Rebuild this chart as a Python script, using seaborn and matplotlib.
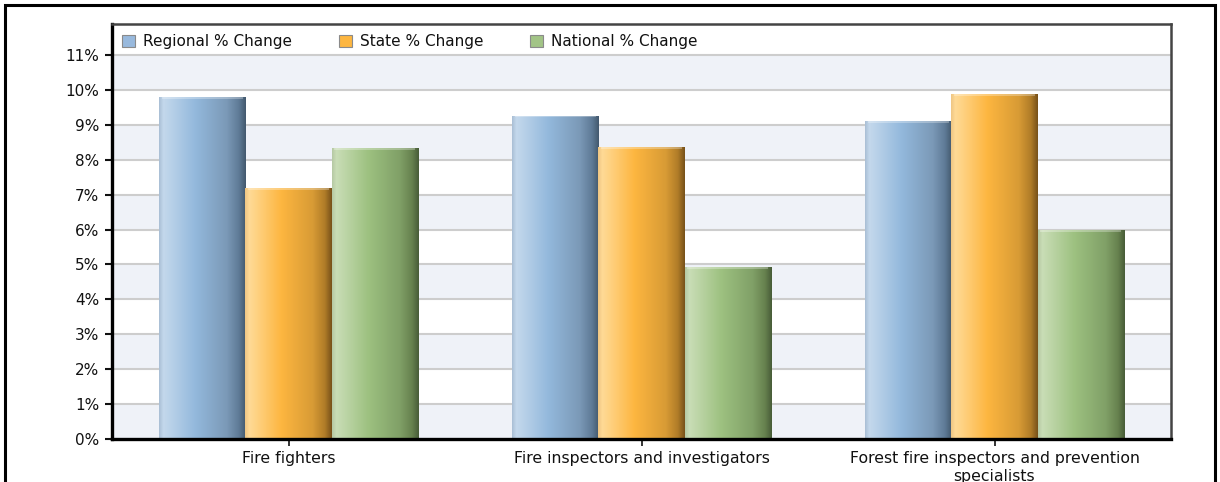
import numpy as np
import pandas as pd
import matplotlib
matplotlib.use("Agg")
import matplotlib.pyplot as plt
import seaborn as sns
from matplotlib.colors import LinearSegmentedColormap
from matplotlib.patches import Patch, Rectangle

# ---- data ----
categories = ["Fire fighters", "Fire inspectors and investigators",
              "Forest fire inspectors and prevention\nspecialists"]
series = ["Regional % Change", "State % Change", "National % Change"]
regional = [9.80, 9.26, 9.11]
state = [7.19, 8.37, 9.88]
national = [8.34, 4.92, 5.99]
yticks = list(range(0, 12))
ytick_labels = [f"{v}%" for v in yticks]

df = pd.DataFrame({
    "category": categories * 3,
    "series": [series[0]] * 3 + [series[1]] * 3 + [series[2]] * 3,
    "value": regional + state + national,
})

base_colors = {"Regional % Change": "#98B9DD",
               "State % Change": "#FDB640",
               "National % Change": "#A2C486"}
grad_stops = {
    "Regional % Change": ["#A9BED5", "#C4D8EC", "#93B8DC", "#7B99B7", "#5F7B97", "#43596E"],
    "State % Change": ["#EFC684", "#FFDA96", "#FDB640", "#D89B35", "#B07C28", "#77511A"],
    "National % Change": ["#B6C9A4", "#C9DDB6", "#9DC180", "#80A067", "#67824F", "#485C38"],
}
stop_pos = [0.0, 0.05, 0.42, 0.78, 0.92, 1.0]

sns.set_style("white")
plt.rcParams["font.family"] = ["DejaVu Sans"]

fig = plt.figure(figsize=(12.2, 4.82), dpi=100)
ax = fig.add_axes([112 / 1220, (482 - 439) / 482, (1171 - 112) / 1220, (439 - 24) / 482])

sns.barplot(data=df, x="category", y="value", hue="series", order=categories,
            hue_order=series, palette=base_colors, width=0.733, dodge=True,
            ax=ax, legend=False, saturation=1, edgecolor="none", zorder=3)

ax.set_xlim(-0.5, 2.5)
ax.set_ylim(0, 11.89)

# background bands and gridlines
for k in range(0, 11, 2):
    ax.axhspan(k, k + 1, color="#EFF2F8", zorder=0, lw=0)
for k in range(1, 12):
    ax.axhline(k, color="#CDCDCD", lw=1.5, zorder=1)

# gradient fill on each bar
n = len(categories)
for i, p in enumerate(ax.patches[:3 * n]):
    s = series[i // n]
    cmap = LinearSegmentedColormap.from_list(s, list(zip(stop_pos, grad_stops[s])))
    x0, w, h = p.get_x(), p.get_width(), p.get_height()
    grad = np.linspace(0, 1, 256).reshape(1, -1)
    im = ax.imshow(grad, cmap=cmap, extent=[x0, x0 + w, 0, h], aspect="auto",
                   zorder=4, interpolation="bilinear")
    im.set_clip_path(p)
    p.set_facecolor("none")
    # top bevel highlight
    ax.plot([x0 + w * 0.03, x0 + w * 0.97], [h - 0.02, h - 0.02],
            color="white", alpha=0.35, lw=1.2, zorder=5, solid_capstyle="butt")

ax.set_xlabel("")
ax.set_ylabel("")
ax.set_yticks(yticks)
ax.set_yticklabels(ytick_labels)
ax.tick_params(axis="y", direction="out", length=5, width=1.5, pad=4,
               labelsize=11, colors="#111111", left=True)
ax.tick_params(axis="x", direction="out", length=5, width=1.2, pad=4,
               labelsize=11.3, colors="#111111", bottom=True)
ax.set_xticks(range(n))
ax.set_xticklabels(categories, linespacing=1.2)

for side in ["left", "bottom"]:
    ax.spines[side].set_color("black")
    ax.spines[side].set_linewidth(2.4)
    ax.spines[side].set_zorder(10)
for side in ["top", "right"]:
    ax.spines[side].set_color("#444444")
    ax.spines[side].set_linewidth(1.8)
    ax.spines[side].set_zorder(10)

handles = [Patch(facecolor=base_colors[s], edgecolor="#8A8A8A", linewidth=0.8) for s in series]
leg = ax.legend(handles, series, ncol=3, loc="upper left", bbox_to_anchor=(0.0, 1.0),
                frameon=False, fontsize=11, handlelength=0.85, handleheight=0.85,
                handletextpad=0.5, columnspacing=3.1, borderaxespad=0.25,
                labelcolor="#111111")

# outer border of the figure
fig.patches.append(Rectangle((5 / 1220, -0.05), 1210 / 1220, 1.05 - 5 / 482,
                             transform=fig.transFigure, fill=False,
                             edgecolor="black", linewidth=2.2))

fig.savefig("out.png", dpi=100)
